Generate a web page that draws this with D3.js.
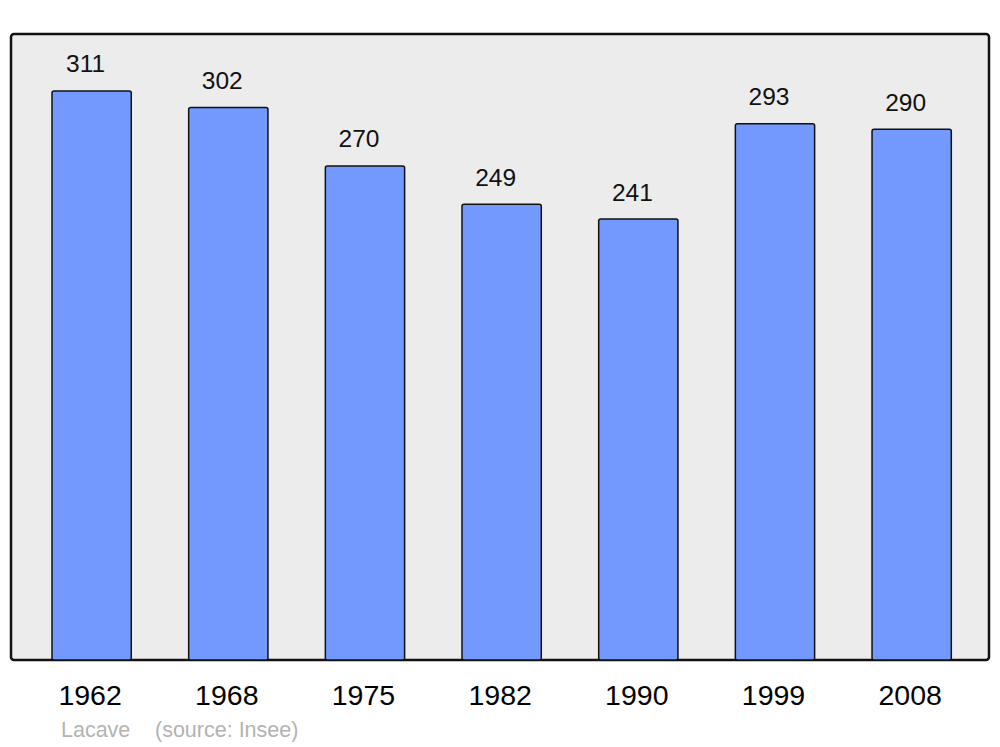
<!DOCTYPE html>
<html>
<head>
<meta charset="utf-8">
<script src="https://cdn.jsdelivr.net/npm/d3@7"></script>
<style>
  body { margin: 0; background: #fff; }
  text { font-family: "Liberation Sans", Arial, sans-serif; }
</style>
</head>
<body>
<svg width="1000" height="747"></svg>
<script>
var years = ["1962", "1968", "1975", "1982", "1990", "1999", "2008"];
var population = [311, 302, 270, 249, 241, 293, 290];
var place = "Lacave";
var source = "(source: Insee)";

var svg = d3.select("svg");

// plot frame
var frameL = 11, frameR = 989, frameT = 34, frameB = 660;

var x = d3.scaleBand()
  .domain(years)
  .range([23.3, 980])
  .paddingInner(0.42)
  .paddingOuter(0.21);

var y = d3.scaleLinear()
  .domain([0, d3.max(population) * 1.1])
  .range([frameB, frameT]);

svg.append("rect")
  .attr("x", frameL).attr("y", frameT)
  .attr("width", frameR - frameL).attr("height", frameB - frameT)
  .attr("rx", 3)
  .style("fill", "#ececec")
  .style("stroke", "#111")
  .style("stroke-width", 2.5);

var data = years.map(function(d, i) { return {year: d, value: population[i]}; });

var bar = svg.selectAll(".bar")
  .data(data)
  .enter().append("g")
    .attr("class", "bar");

bar.append("rect")
  .attr("x", function(d) { return x(d.year); })
  .attr("y", function(d) { return y(d.value); })
  .attr("width", x.bandwidth())
  .attr("height", function(d) { return frameB - y(d.value); })
  .attr("rx", 2)
  .style("fill", "#7399ff")
  .style("stroke", "#111")
  .style("stroke-width", 1.5);

// value labels sit a little left of the bar centre
bar.append("text")
  .attr("x", function(d) { return x(d.year) + x.bandwidth() / 2 - 6; })
  .attr("y", function(d) { return y(d.value) - 18.5; })
  .attr("text-anchor", "middle")
  .style("font-size", "24.5px")
  .style("fill", "#111")
  .text(function(d) { return d.value; });

// year labels
svg.append("g").selectAll("text")
  .data(years)
  .enter().append("text")
    .attr("x", function(d) { return x(d) + x.bandwidth() / 2 - 1.5; })
    .attr("y", 705)
    .attr("text-anchor", "middle")
    .style("font-size", "28.5px")
    .style("fill", "#000")
    .text(function(d) { return d; });

svg.append("text")
  .attr("x", 61).attr("y", 737)
  .style("font-size", "21.5px")
  .style("fill", "#b3b3b3")
  .text(place);

svg.append("text")
  .attr("x", 155).attr("y", 737)
  .style("font-size", "21.5px")
  .style("fill", "#b3b3b3")
  .text(source);
</script>
</body>
</html>
